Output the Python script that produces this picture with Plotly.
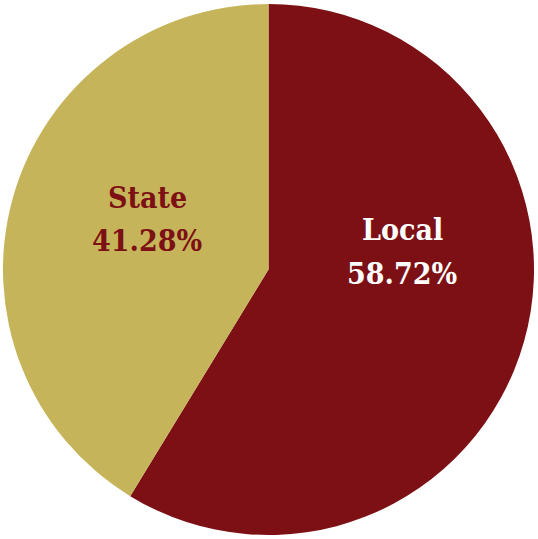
import plotly.graph_objects as go

labels = ["Local", "State"]
values = [58.72, 41.28]
colors = ["#7C1014", "#C6B45A"]
text_colors = ["#FFFFFF", "#7C1014"]
# label anchor positions (paper coords) for the name line and the value line
label_x = [(402 - 3) / 531, (147 - 3) / 531]
name_y = [1 - (229 - 4) / 531, 1 - (197 - 4) / 531]
value_y = [1 - (273 - 4) / 531, 1 - (240 - 4) / 531]

fig = go.Figure(go.Pie(
    labels=labels, values=values, sort=False, direction="clockwise", rotation=0,
    marker=dict(colors=colors, line=dict(width=0)), textinfo="none",
    hoverinfo="label+percent", showlegend=False,
))

font_family = "DejaVu Serif Condensed, DejaVu Serif, serif"
for i, lab in enumerate(labels):
    fig.add_annotation(x=label_x[i], y=name_y[i], xref="paper", yref="paper",
                       xanchor="center", yanchor="middle",
                       text=f"<b>{lab}</b>", showarrow=False,
                       font=dict(family=font_family, size=30, color=text_colors[i]))
    fig.add_annotation(x=label_x[i], y=value_y[i], xref="paper", yref="paper",
                       xanchor="center", yanchor="middle",
                       text=f"<b>{values[i]:.2f}%</b>", showarrow=False,
                       font=dict(family=font_family, size=30, color=text_colors[i]))

fig.update_layout(width=538, height=539, margin=dict(l=3, r=4, t=4, b=4),
                  paper_bgcolor="white", plot_bgcolor="white")
fig.write_html("out.html", config={"displayModeBar": False},
               post_script="document.body.style.margin='0';document.body.style.overflow='hidden';")
